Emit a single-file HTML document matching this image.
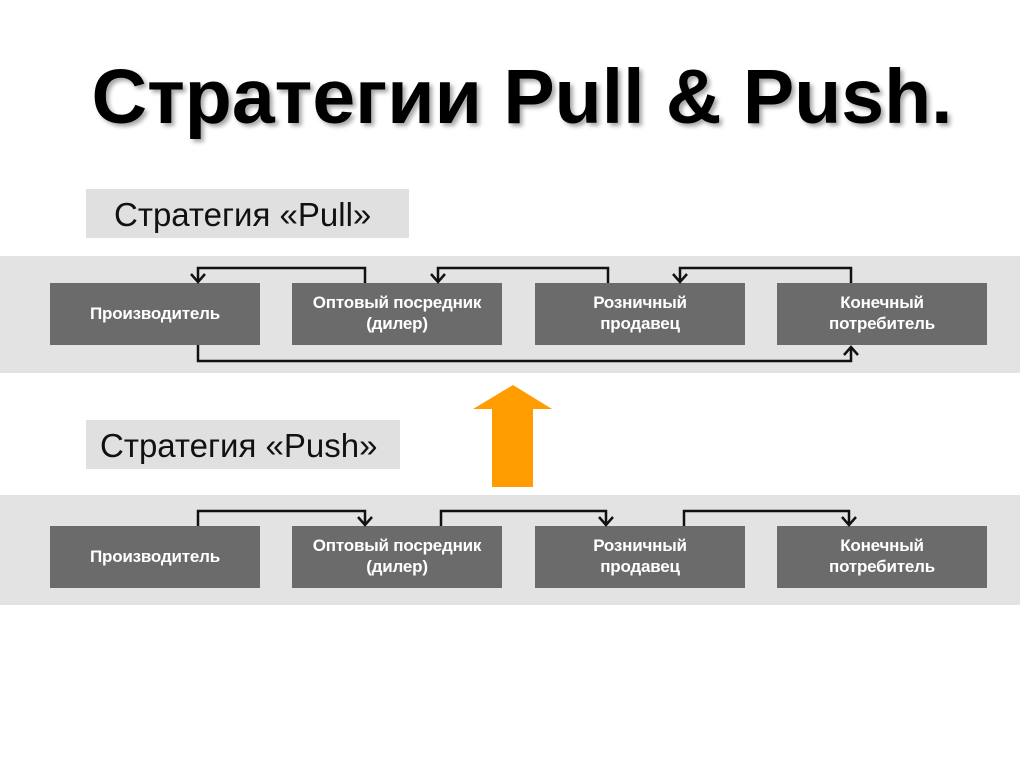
<!DOCTYPE html>
<html><head><meta charset="utf-8"><style>
html,body{margin:0;padding:0;background:#fff;}
svg{display:block}
</style></head><body>
<svg width="1024" height="768" viewBox="0 0 1024 768" xmlns="http://www.w3.org/2000/svg" font-family="Liberation Sans, DejaVu Sans, sans-serif">
<defs>
<filter id="sh" x="-5%" y="-5%" width="110%" height="120%"><feDropShadow dx="3" dy="3" stdDeviation="2" flood-color="#000" flood-opacity="0.35"/></filter>
</defs>
<rect width="1024" height="768" fill="#fff"/>
<text x="522" y="123" text-anchor="middle" font-size="77" font-weight="bold" fill="#000" filter="url(#sh)">Стратегии Pull &amp; Push.</text>

<rect x="86" y="189" width="323" height="49" fill="#e0e0e0"/>
<text x="114" y="226" font-size="33" fill="#111">Стратегия «Pull»</text>

<rect x="0" y="256" width="1020" height="117" fill="#e3e3e3"/>
<g fill="#6b6b6b">
<rect x="50" y="283" width="210" height="62"/><rect x="292" y="283" width="210" height="62"/>
<rect x="535" y="283" width="210" height="62"/><rect x="777" y="283" width="210" height="62"/>
</g>
<g fill="none" stroke="#111" stroke-width="2.5">
<path d="M365 283V268H198V282"/><path d="M608 283V268H438V282"/><path d="M851 283V268H680V282"/>
<path d="M198 345V361H851V347"/>
<path d="M191 274L198 282L205 274"/><path d="M431 274L438 282L445 274"/><path d="M673 274L680 282L687 274"/>
<path d="M844 355L851 347L858 355"/>
</g>
<g fill="#fff" font-weight="bold" font-size="17" text-anchor="middle" letter-spacing="-0.2">
<text x="155" y="319">Производитель</text>
<text x="397" y="308">Оптовый посредник</text><text x="397" y="329">(дилер)</text>
<text x="640" y="308">Розничный</text><text x="640" y="329">продавец</text>
<text x="882" y="308">Конечный</text><text x="882" y="329">потребитель</text>
</g>

<polygon points="513,385 552,409 533,409 533,487 492,487 492,409 473,409" fill="#ff9c00"/>

<rect x="86" y="420" width="314" height="49" fill="#e0e0e0"/>
<text x="100" y="457" font-size="33" fill="#111">Стратегия «Push»</text>

<rect x="0" y="495" width="1020" height="110" fill="#e3e3e3"/>
<g fill="#6b6b6b">
<rect x="50" y="526" width="210" height="62"/><rect x="292" y="526" width="210" height="62"/>
<rect x="535" y="526" width="210" height="62"/><rect x="777" y="526" width="210" height="62"/>
</g>
<g fill="none" stroke="#111" stroke-width="2.5">
<path d="M198 526V511H365V525"/><path d="M441 526V511H606V525"/><path d="M684 526V511H849V525"/>
<path d="M358 517L365 525L372 517"/><path d="M599 517L606 525L613 517"/><path d="M842 517L849 525L856 517"/>
</g>
<g fill="#fff" font-weight="bold" font-size="17" text-anchor="middle" letter-spacing="-0.2">
<text x="155" y="562">Производитель</text>
<text x="397" y="551">Оптовый посредник</text><text x="397" y="572">(дилер)</text>
<text x="640" y="551">Розничный</text><text x="640" y="572">продавец</text>
<text x="882" y="551">Конечный</text><text x="882" y="572">потребитель</text>
</g>
</svg>
</body></html>
